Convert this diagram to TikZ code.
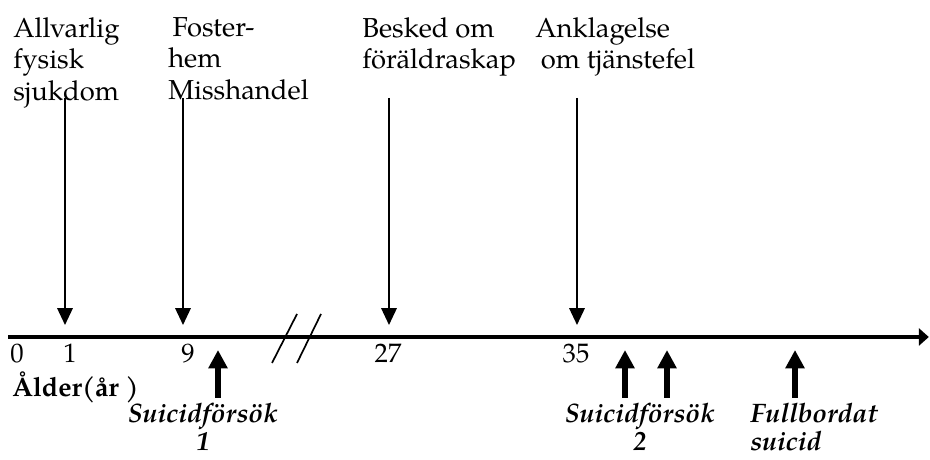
\documentclass[tikz,border=0pt]{standalone}
\usepackage{fontspec}
\setmainfont{TeX Gyre Pagella}
\usetikzlibrary{arrows.meta}
\tikzset{
  eventtext/.style = {anchor=north west, align=left, inner sep=0pt, font=\fontsize{19.5}{22.4}\selectfont},
  agetext/.style = {anchor=base, inner sep=0pt, font=\fontsize{19}{22}\selectfont},
  attempttext/.style = {anchor=north, align=center, inner sep=0pt, font=\fontsize{19}{20}\selectfont\bfseries\itshape},
  timeline/.style = {line width=3.5pt, -{Triangle[length=7pt,width=12pt]}},
  eventarrow/.style = {line width=1.3pt, -{Triangle[length=12pt,width=11pt]}},
  attemptarrow/.style = {line width=4.2pt, -{Triangle[length=13pt,width=13pt]}},
  breakmark/.style = {line width=1.2pt}
}

\begin{document}
\begin{tikzpicture}
  \useasboundingbox (0,0) rectangle (23.25,11.5);

  % tidslinjen
  \coordinate (start) at (0.2,3.075);
  \coordinate (end) at (23.22,3.075);
  \draw[timeline] (start) -- (end);

  % avbrott i skalan
  \coordinate (b1) at (6.8,2.425);   \coordinate (b1top) at (7.425,3.65);
  \coordinate (b2) at (7.425,2.425); \coordinate (b2top) at (8.025,3.65);
  \draw[breakmark] (b1) -- (b1top);
  \draw[breakmark] (b2) -- (b2top);

  % livshändelser ovanför linjen
  \node[eventtext] (sjukdom) at (0.325,11.07) {Allvarlig\\fysisk\\sjukdom};
  \node[eventtext] (foster) at (4.2,11.07) {\hspace{3pt}Foster-\\hem\\Misshandel};
  \node[eventtext] (besked) at (9.05,11.07) {Besked om\\föräldraskap};
  \node[eventtext] (anklag) at (13.375,11.07) {Anklagelse\\\hspace{4pt}om tjänstefel};

  \foreach \n/\x in {sjukdom/1.625, foster/4.575, besked/9.725, anklag/14.425} {
    \coordinate (\n top) at (\x,9.05);
    \coordinate (\n tip) at (\x,3.375);
    \draw[eventarrow] (\n top) -- (\n tip);
  }

  % åldrar under linjen
  \node[agetext] (a0) at (0.425,2.425) {0};
  \node[agetext] (a1) at (1.75,2.425) {1};
  \node[agetext] (a9) at (4.7,2.425) {9};
  \node[agetext] (a27) at (9.7,2.425) {27};
  \node[agetext] (a35) at (14.4,2.425) {35};
  \node[agetext, anchor=base west, font=\fontsize{19}{22}\selectfont\bfseries] (alder) at (0.3,1.575) {Ålder(år )};

  % självmordsförsök
  \foreach \n/\x in {f1/5.45, f2/15.625, f3/16.675, fs/19.875} {
    \coordinate (\n base) at (\x,1.55);
    \coordinate (\n tip) at (\x,2.75);
    \draw[attemptarrow] (\n base) -- (\n tip);
  }
  \node[attempttext] (forsok1) at (5.075,1.42) {Suicidförsök\\1};
  \node[attempttext] (forsok2) at (16.0,1.42) {Suicidförsök\\2\hspace{8pt}};
  \node[attempttext, anchor=north west, align=left] (fullbordat) at (18.75,1.42) {Fullbordat\\suicid};
\end{tikzpicture}
\end{document}
